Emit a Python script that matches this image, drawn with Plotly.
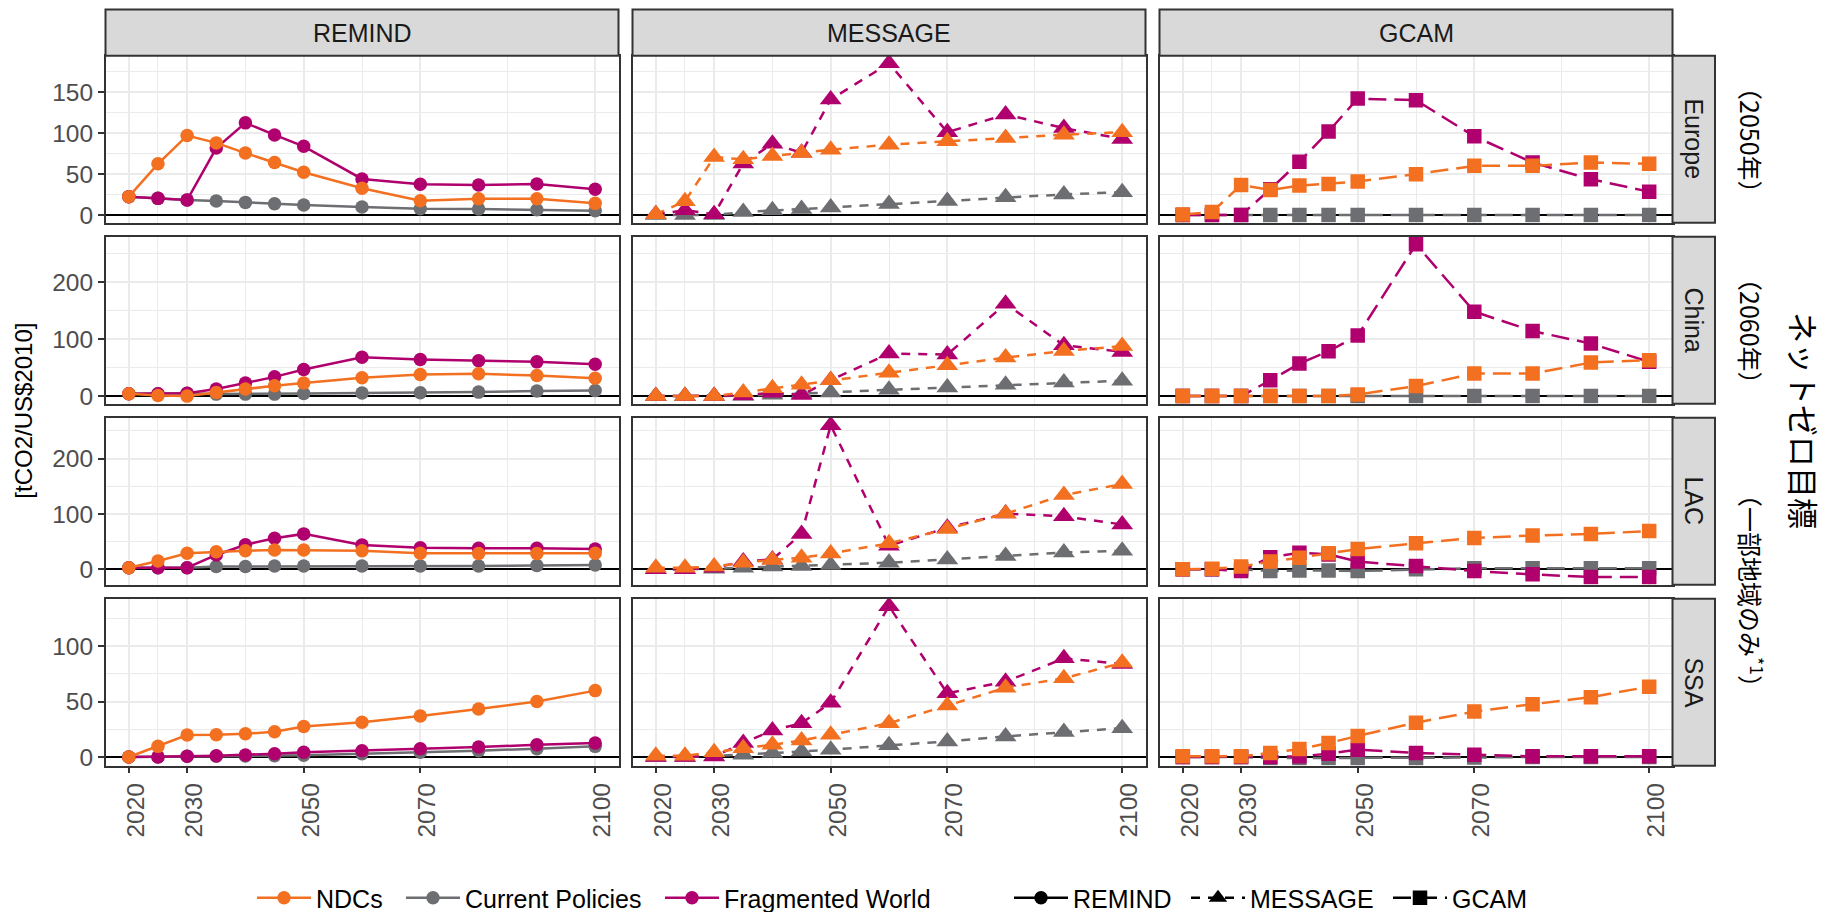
import plotly.graph_objects as go

# ---------------------------------------------------------------------------
# Data: carbon intensity [tCO2/US$2010] by model, region and scenario
# ---------------------------------------------------------------------------
years = [2020, 2025, 2030, 2035, 2040, 2045, 2050, 2060, 2070, 2080, 2090, 2100]
models = ["REMIND", "MESSAGE", "GCAM"]
regions = ["Europe", "China", "LAC", "SSA"]
scenarios = ["NDCs", "Current Policies", "Fragmented World"]
x_ticks = [2020, 2030, 2050, 2070, 2100]
x_minor = [2025, 2040, 2060, 2085]
y_ticks_europe = [0, 50, 100, 150]
y_ticks_china = [0, 100, 200]
y_ticks_lac = [0, 100, 200]
y_ticks_ssa = [0, 50, 100]
target_notes = ["（2050年）", "（2060年）", "（一部地域のみ<sup>*1</sup>）"]
target_title = "ネットゼロ目標"
y_title = "[tCO2/US$2010]"

# REMIND
remind_europe_ndc = [22.5, 62.5, 97, 88, 75.6, 64, 52.3, 32.7, 17.6, 20, 20, 14.3]
remind_europe_cp = [22.5, 20.4, 18.4, 17.2, 15.5, 13.9, 12.3, 9.8, 7.8, 7.4, 6.5, 5.3]
remind_europe_fw = [22.5, 20.4, 18.4, 81.7, 112.4, 97.7, 83.8, 44.1, 37.6, 36.8, 38, 31.5]
remind_china_ndc = [4, 1, 0, 6.5, 12.4, 18.3, 23, 32, 38, 39, 36, 31.4]
remind_china_cp = [4, 4, 5, 3.5, 3.5, 3.5, 4.7, 5.3, 6, 7, 8.9, 10]
remind_china_fw = [4, 4, 5, 12.4, 23, 33.7, 46.7, 68, 64, 62, 60, 56]
remind_lac_ndc = [3, 15, 29, 31.7, 33.5, 34.8, 34.8, 33.5, 29, 28.7, 28.7, 29]
remind_lac_cp = [3, 3, 3, 5, 5, 6, 6, 6, 6, 6, 7, 8]
remind_lac_fw = [3, 3, 3, 26, 44.5, 56, 64, 44, 39, 38, 38, 36.6]
remind_ssa_ndc = [0, 9.6, 19.8, 20, 21, 22.8, 27.5, 31.4, 37, 43.4, 50, 59.9]
remind_ssa_cp = [0, 0, 0.6, 0.6, 1, 1.2, 1.5, 3, 4.2, 5.7, 7.5, 9.6]
remind_ssa_fw = [0, 0, 0.6, 1.2, 1.8, 3, 4.2, 5.7, 7.5, 9, 11, 12.6]

# MESSAGE
message_europe_ndc = [1, 17, 70.7, 68, 72, 75.6, 79.7, 85.8, 90, 94, 98, 101]
message_europe_cp = [0, 0, 0, 3.7, 6, 7.4, 9.4, 13.5, 17.2, 21.7, 25.2, 28]
message_europe_fw = [1, 6, 1, 63, 87, 76, 141, 185, 101, 122.6, 106, 92.8]
message_china_ndc = [0, 0, 0, 6.5, 13.6, 20, 28, 41, 54, 67.5, 79, 87.6]
message_china_cp = [0, 0, 0, 0.5, 2.4, 4, 6.5, 11, 15, 20, 23.7, 27]
message_china_fw = [0, 0, 0, 1, 6, 2, 28, 74.5, 72.8, 162, 89, 77.5]
message_lac_ndc = [3, 3, 5, 12, 17, 21, 28.7, 47, 73, 100.6, 134, 154]
message_lac_cp = [0, 0, 1, 3, 5, 6, 8, 12, 18, 24, 30.5, 33.5]
message_lac_fw = [0, 0, 3, 14, 18, 64, 260, 42.7, 75, 100.6, 95.7, 81]
message_ssa_ndc = [1.2, 1.2, 4.2, 8, 11, 15, 20, 30.5, 46.4, 62.6, 71, 85]
message_ssa_cp = [0, 0, 1, 2, 3.6, 5, 6.6, 10.5, 14, 18.6, 22.5, 26]
message_ssa_fw = [0, 0, 0.5, 12.6, 24, 30.5, 49, 136, 57.5, 68, 89, 84]

# GCAM
gcam_europe_ndc = [0.8, 3.7, 36.8, 30.6, 36, 38, 40.9, 49.9, 60, 60, 64, 62.5]
gcam_europe_cp = [0, 0, 0, 0, 0, 0, 0, 0, 0, 0, 0, 0]
gcam_europe_fw = [0, 0, 0, 31.5, 65, 102, 142, 140, 96, 64, 43.7, 28.6]
gcam_china_ndc = [0, 0, 0, 0, 0, 0, 3, 17.6, 39.4, 39.4, 58.8, 63]
gcam_china_cp = [0, 0, 0, 0, 0, 0, 0, 0, 0, 0, 0, 0]
gcam_china_fw = [0, 0, 0, 27.6, 57, 78.8, 106, 266, 148, 114, 92, 60]
gcam_lac_ndc = [0, 1, 5, 14, 21, 29, 36.6, 47, 56.7, 61, 64, 69]
gcam_lac_cp = [0, 0, 0, -3, -2, -2, -3, 0, 2, 2, 2, 2]
gcam_lac_fw = [0, 0, -3, 22, 30, 27, 14, 6, -3, -9, -14, -14]
gcam_ssa_ndc = [0.6, 0.6, 0.6, 3.6, 7.2, 12.6, 19, 31, 41, 47.6, 54, 63.5]
gcam_ssa_cp = [0, 0, 0, -1, -1, -1, -1, -1, -0.5, 0, 0, 0]
gcam_ssa_fw = [0, 0, 0, 0, 0.6, 3, 6.6, 3.6, 2, 0.6, 0.6, 0.6]

series = {
    ("REMIND", "Europe"): [remind_europe_ndc, remind_europe_cp, remind_europe_fw],
    ("REMIND", "China"): [remind_china_ndc, remind_china_cp, remind_china_fw],
    ("REMIND", "LAC"): [remind_lac_ndc, remind_lac_cp, remind_lac_fw],
    ("REMIND", "SSA"): [remind_ssa_ndc, remind_ssa_cp, remind_ssa_fw],
    ("MESSAGE", "Europe"): [message_europe_ndc, message_europe_cp, message_europe_fw],
    ("MESSAGE", "China"): [message_china_ndc, message_china_cp, message_china_fw],
    ("MESSAGE", "LAC"): [message_lac_ndc, message_lac_cp, message_lac_fw],
    ("MESSAGE", "SSA"): [message_ssa_ndc, message_ssa_cp, message_ssa_fw],
    ("GCAM", "Europe"): [gcam_europe_ndc, gcam_europe_cp, gcam_europe_fw],
    ("GCAM", "China"): [gcam_china_ndc, gcam_china_cp, gcam_china_fw],
    ("GCAM", "LAC"): [gcam_lac_ndc, gcam_lac_cp, gcam_lac_fw],
    ("GCAM", "SSA"): [gcam_ssa_ndc, gcam_ssa_cp, gcam_ssa_fw],
}
row_ticks = [y_ticks_europe, y_ticks_china, y_ticks_lac, y_ticks_ssa]

# ---------------------------------------------------------------------------
# Styling
# ---------------------------------------------------------------------------
W, H = 1827, 912
COL_X0 = [105.5, 632.5, 1159.5]
PANEL_W = 513
ROW_Y0 = [55.7, 236.7, 417.7, 598.7]
PANEL_H = 167
STRIP_TOP = 9.5
RSTRIP_X1 = 1715

FONT = "Liberation Sans, Arial, Helvetica, sans-serif"
JP_FONT = "Noto Sans CJK JP, sans-serif"
BORDER = "#333333"
GRID = "#EBEBEB"
STRIP_FILL = "#D9D9D9"
TICK_TXT = "#4D4D4D"

scen_color = {"NDCs": "#F37021", "Current Policies": "#6D6E71", "Fragmented World": "#B0006E"}
model_dash = {"REMIND": "solid", "MESSAGE": "9px,8px", "GCAM": "18px,8px"}
model_symbol = {"REMIND": "circle", "MESSAGE": "triangle-up", "GCAM": "square"}
model_msize = {"REMIND": 13.5, "MESSAGE": 19, "GCAM": 14.5}
draw_order = ["Current Policies", "Fragmented World", "NDCs"]
LINE_W = 2.5


def px_x(v):
    return v / W


def px_y(v):
    return 1 - v / H


fig = go.Figure()
layout = dict(
    width=W, height=H,
    margin=dict(l=0, r=0, t=0, b=0, autoexpand=False),
    paper_bgcolor="white", plot_bgcolor="white",
    font=dict(family=FONT, color="#1A1A1A"),
    showlegend=True,
)

shapes = []
annotations = []

for r, region in enumerate(regions):
    vals = [v for m in models for s in series[(m, region)] for v in s]
    lo, hi = min(vals), max(vals)
    pad = 0.05 * (hi - lo)
    yrange = [lo - pad, hi + pad]
    ticks = row_ticks[r]
    step = ticks[1] - ticks[0]
    minor = [t + step / 2 for t in ticks] + [ticks[0] - step / 2]

    for c, model in enumerate(models):
        k = r * 3 + c + 1
        xa = "xaxis" if k == 1 else f"xaxis{k}"
        ya = "yaxis" if k == 1 else f"yaxis{k}"
        xr = "x" if k == 1 else f"x{k}"
        yr = "y" if k == 1 else f"y{k}"

        x0 = COL_X0[c]
        y0 = ROW_Y0[r]
        bottom = r == len(regions) - 1
        left = c == 0

        layout[xa] = dict(
            domain=[px_x(x0), px_x(x0 + PANEL_W)], anchor=yr,
            range=[2016, 2104], tickmode="array", tickvals=x_ticks,
            ticktext=[str(t) for t in x_ticks],
            showticklabels=bottom, ticks="outside" if bottom else "",
            ticklen=5.5, tickwidth=2, tickcolor=BORDER,
            tickangle=-90, ticklabelshift=7,
            tickfont=dict(size=24.5, color=TICK_TXT, family=FONT),
            showgrid=True, gridcolor=GRID, gridwidth=1.6,
            minor=dict(tickvals=x_minor, showgrid=True, gridcolor=GRID, gridwidth=0.9, ticks=""),
            showline=True, mirror=True, linecolor=BORDER, linewidth=2,
            zeroline=False, fixedrange=True,
        )
        layout[ya] = dict(
            domain=[px_y(y0 + PANEL_H), px_y(y0)], anchor=xr,
            range=yrange, tickmode="array", tickvals=ticks,
            ticktext=[str(t) for t in ticks],
            showticklabels=left, ticks="outside" if left else "",
            ticklen=5.5, tickwidth=2, tickcolor=BORDER,
            tickfont=dict(size=24.5, color=TICK_TXT, family=FONT),
            showgrid=True, gridcolor=GRID, gridwidth=1.6,
            minor=dict(tickvals=minor, showgrid=True, gridcolor=GRID, gridwidth=0.9, ticks=""),
            showline=True, mirror=True, linecolor=BORDER, linewidth=2,
            zeroline=True, zerolinecolor="black", zerolinewidth=2.2,
            fixedrange=True,
        )

        data = dict(zip(scenarios, series[(model, region)]))
        for scen in draw_order:
            fig.add_trace(go.Scatter(
                x=years, y=data[scen], xaxis=xr, yaxis=yr,
                mode="lines+markers",
                line=dict(color=scen_color[scen], width=LINE_W, dash=model_dash[model]),
                marker=dict(symbol=model_symbol[model], size=model_msize[model],
                            color=scen_color[scen], line=dict(width=0)),
                showlegend=False, hoverinfo="skip",
            ))

        # column strip
        if r == 0:
            shapes.append(dict(type="rect", xref="paper", yref="paper",
                               x0=px_x(x0), x1=px_x(x0 + PANEL_W),
                               y0=px_y(ROW_Y0[0]), y1=px_y(STRIP_TOP),
                               fillcolor=STRIP_FILL, line=dict(color=BORDER, width=2), layer="above"))
            annotations.append(dict(text=model, xref="paper", yref="paper",
                                    x=px_x(x0 + PANEL_W / 2), y=px_y((STRIP_TOP + ROW_Y0[0]) / 2),
                                    showarrow=False, font=dict(size=25, color="#1A1A1A", family=FONT),
                                    xanchor="center", yanchor="middle"))

    # row strip
    xs0 = COL_X0[2] + PANEL_W
    shapes.append(dict(type="rect", xref="paper", yref="paper",
                       x0=px_x(xs0), x1=px_x(RSTRIP_X1),
                       y0=px_y(ROW_Y0[r] + PANEL_H), y1=px_y(ROW_Y0[r]),
                       fillcolor=STRIP_FILL, line=dict(color=BORDER, width=2), layer="above"))
    annotations.append(dict(text=region, xref="paper", yref="paper",
                            x=px_x((xs0 + RSTRIP_X1) / 2), y=px_y(ROW_Y0[r] + PANEL_H / 2),
                            textangle=90, showarrow=False,
                            font=dict(size=25, color="#1A1A1A", family=FONT),
                            xanchor="center", yanchor="middle"))

# y-axis title
annotations.append(dict(text=y_title, xref="paper", yref="paper",
                        x=px_x(24), y=px_y((ROW_Y0[0] + ROW_Y0[-1] + PANEL_H) / 2),
                        textangle=-90, showarrow=False,
                        font=dict(size=24, color="black", family=FONT),
                        xanchor="center", yanchor="middle"))

# net-zero target notes on the right
note_pos = [(1751, 140), (1751, 331), (1751, 591)]
for txt, (nx, ny) in zip(target_notes, note_pos):
    annotations.append(dict(text=txt, xref="paper", yref="paper", x=px_x(nx), y=px_y(ny),
                            textangle=90, showarrow=False,
                            font=dict(size=25, color="black", family=JP_FONT),
                            xanchor="center", yanchor="middle"))
annotations.append(dict(text=target_title, xref="paper", yref="paper", x=px_x(1805), y=px_y(420),
                        textangle=90, showarrow=False,
                        font=dict(size=31, color="black", family=JP_FONT),
                        xanchor="center", yanchor="middle"))

# legends: scenario colours, then model line/marker styles
legend_items = [
    ("NDCs", scen_color["NDCs"], "solid", "circle", 13.5, 272),
    ("Current Policies", scen_color["Current Policies"], "solid", "circle", 13.5, 421),
    ("Fragmented World", scen_color["Fragmented World"], "solid", "circle", 13.5, 680),
    ("REMIND", "black", model_dash["REMIND"], model_symbol["REMIND"], model_msize["REMIND"], 1029),
    ("MESSAGE", "black", model_dash["MESSAGE"], model_symbol["MESSAGE"], model_msize["MESSAGE"], 1206),
    ("GCAM", "black", model_dash["GCAM"], model_symbol["GCAM"], model_msize["GCAM"], 1408),
]
for i, (name, col, dash, sym, msz, cx) in enumerate(legend_items):
    lg = "legend" if i == 0 else f"legend{i + 1}"
    fig.add_trace(go.Scatter(
        x=[None], y=[None], name=name, mode="lines+markers",
        line=dict(color=col, width=LINE_W, dash=dash),
        marker=dict(symbol=sym, size=msz, color=col),
        legend=lg, showlegend=True, hoverinfo="skip",
    ))
    layout[lg] = dict(
        x=px_x(cx - 20), y=px_y(898), xanchor="left", yanchor="middle",
        orientation="h", itemwidth=54, bgcolor="rgba(0,0,0,0)", borderwidth=0,
        font=dict(size=25, color="black", family=FONT),
        itemclick=False, itemdoubleclick=False,
    )

layout["shapes"] = shapes
layout["annotations"] = annotations
fig.update_layout(**layout)

fig.write_html("out.html")
